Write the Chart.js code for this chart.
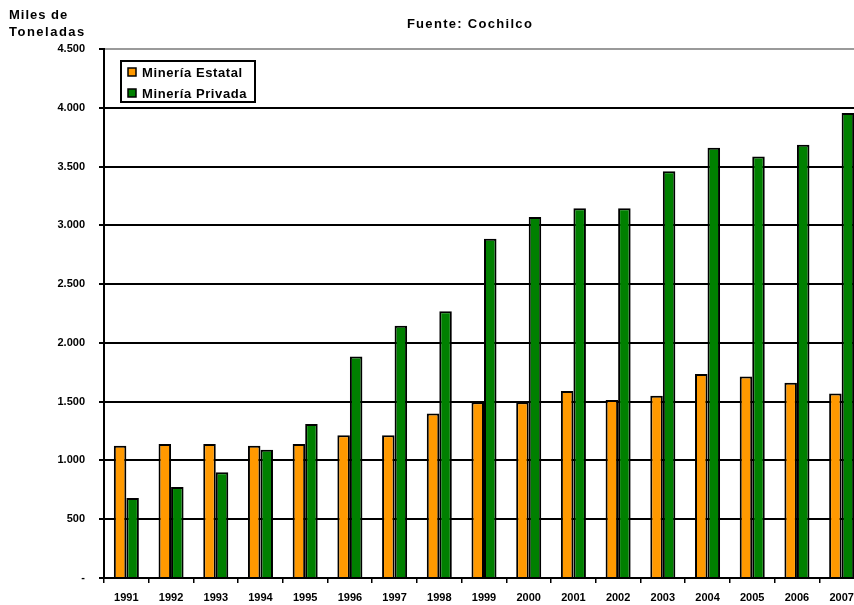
<!DOCTYPE html>
<html>
<head>
<meta charset="utf-8">
<script src="https://cdn.jsdelivr.net/npm/chart.js@4.4.1/dist/chart.umd.min.js"></script>
<style>
  html, body { margin: 0; padding: 0; background: #fff; overflow: hidden; }
  #wrap { position: relative; width: 866px; height: 605px; }
</style>
</head>
<body>
<div id="wrap"><canvas id="c"></canvas></div>
<script>
// Producción de cobre de Chile por tipo de minería (miles de toneladas)
const years = ['1991','1992','1993','1994','1995','1996','1997','1998','1999',
               '2000','2001','2002','2003','2004','2005','2006','2007'];
const mineriaEstatal = [1125, 1140, 1140, 1125, 1140, 1215, 1215, 1400, 1495,
                        1495, 1590, 1515, 1550, 1735, 1715, 1660, 1570];
const mineriaPrivada = [680, 775, 900, 1090, 1310, 1885, 2145, 2270, 2885,
                        3070, 3145, 3145, 3460, 3660, 3585, 3685, 3955];
const seriesNames = ['Minería Estatal', 'Minería Privada'];
const seriesColors = ['#FF9900', '#008000'];
const chartTitle = 'Fuente: Cochilco';
const unitLines = ['Miles de', 'Toneladas'];
const yMax = 4500;
const yStep = 500;

const FONT = "'Liberation Sans', Arial, sans-serif";

function fmtThousands(v) {
  if (v === 0) return '-';
  return String(v).replace(/\B(?=(\d{3})+(?!\d))/g, '.');
}

// Title, unit caption and boxed legend drawn on top of the plot
const decorations = {
  id: 'decorations',
  afterDraw(chart) {
    const ctx = chart.ctx;
    const area = chart.chartArea;
    ctx.save();
    ctx.fillStyle = '#000';
    ctx.textBaseline = 'middle';

    ctx.font = 'bold 13px ' + FONT;
    ctx.letterSpacing = '1.3px';
    ctx.textAlign = 'center';
    ctx.fillText(chartTitle, 470, 24);

    ctx.textAlign = 'left';
    ctx.letterSpacing = '1px';
    ctx.fillText(unitLines[0], 9, 15);
    ctx.letterSpacing = '1.5px';
    ctx.fillText(unitLines[1], 9, 32);

    // legend box
    const bx = area.left + 17, by = area.top + 12, bw = 134, bh = 41;
    ctx.fillStyle = '#fff';
    ctx.fillRect(bx, by, bw, bh);
    ctx.lineWidth = 2;
    ctx.strokeStyle = '#000';
    ctx.strokeRect(bx, by, bw, bh);
    ctx.font = 'bold 13px ' + FONT;
    ctx.letterSpacing = '0.6px';
    chart.data.datasets.forEach((ds, i) => {
      const cy = by + 11 + i * 21;
      ctx.fillStyle = ds.backgroundColor;
      ctx.fillRect(bx + 7, cy - 4, 8, 8);
      ctx.lineWidth = 1.5;
      ctx.strokeRect(bx + 7, cy - 4, 8, 8);
      ctx.fillStyle = '#000';
      ctx.fillText(ds.label, bx + 21, cy + 1);
    });
    ctx.restore();
  }
};

new Chart(document.getElementById('c'), {
  type: 'bar',
  data: {
    labels: years,
    datasets: [
      { label: seriesNames[0], data: mineriaEstatal, backgroundColor: seriesColors[0],
        borderColor: '#000', borderWidth: 2 },
      { label: seriesNames[1], data: mineriaPrivada, backgroundColor: seriesColors[1],
        borderColor: '#000', borderWidth: 2 }
    ]
  },
  options: {
    responsive: true,
    maintainAspectRatio: false,
    animation: false,
    layout: { padding: { top: 49, left: 0, right: 2, bottom: 0 } },
    plugins: {
      legend: { display: false },
      title: { display: false },
      tooltip: { enabled: false }
    },
    datasets: {
      bar: { categoryPercentage: 0.56, barPercentage: 1.0 }
    },
    scales: {
      x: {
        afterFit(scale) { scale.height = 27; },
        grid: {
          offset: true,
          drawOnChartArea: false,
          drawTicks: true,
          tickLength: 5,
          color: '#000',
          lineWidth: 1.5
        },
        border: { display: true, color: '#000', width: 2 },
        ticks: {
          color: '#000',
          padding: 8,
          maxRotation: 0,
          autoSkip: false,
          font: { family: FONT, size: 11, weight: 'bold' }
        }
      },
      y: {
        min: 0,
        max: yMax,
        afterFit(scale) { scale.width = 104; },
        grid: {
          color: (c) => (c.tick && c.tick.value === yMax) ? '#9a9a9a' : '#000',
          lineWidth: 2,
          tickLength: 5,
          tickColor: '#000',
          drawTicks: true
        },
        border: { display: true, color: '#000', width: 2 },
        ticks: {
          stepSize: yStep,
          color: '#000',
          padding: 14,
          font: { family: FONT, size: 11, weight: 'bold' },
          callback: (v) => fmtThousands(v)
        }
      }
    }
  },
  plugins: [decorations]
});
</script>
</body>
</html>
